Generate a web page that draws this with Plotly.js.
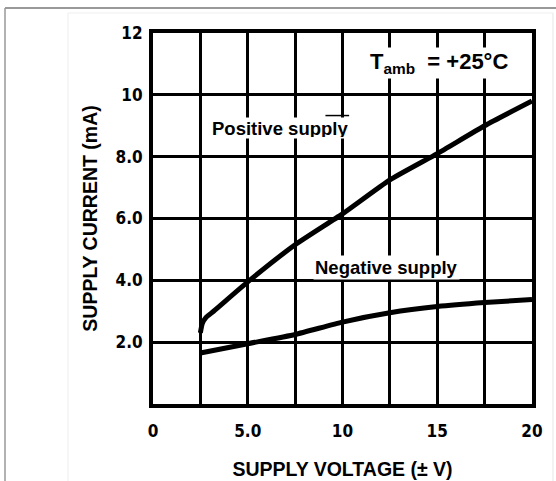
<!DOCTYPE html>
<html>
<head>
<meta charset="utf-8">
<script src="https://cdn.plot.ly/plotly-3.0.1.min.js"></script>
<style>
html,body{margin:0;padding:0;background:#fff;}
#chart{width:556px;height:481px;}
</style>
</head>
<body>
<div id="chart"></div>
<script>
// Data
var posVoltage = [2.5, 2.6, 2.8, 3.2, 5, 7.5, 10, 12.5, 15, 17.5, 20];
var posCurrent = [2.3, 2.6, 2.8, 3.0, 3.95, 5.15, 6.15, 7.25, 8.1, 9.0, 9.8];
var negVoltage = [2.5, 5, 7.5, 10, 12.5, 15, 17.5, 20];
var negCurrent = [1.65, 1.95, 2.25, 2.65, 2.95, 3.15, 3.28, 3.38];

var xTickVals = [0, 5, 10, 15, 20];
var xTickText = ['0', '5.0', '10', '15', '20'];
var yTickVals = [2, 4, 6, 8, 10, 12];
var yTickText = ['2.0', '4.0', '6.0', '8.0', '10', '12'];

var tickFont = {family: '"Liberation Sans Narrow", "DejaVu Sans Condensed", Arial, sans-serif', size: 17, color: '#000', weight: 'bold'};
var labelFont = {family: '"Liberation Sans", Arial, Helvetica, sans-serif', size: 18.5, color: '#000', weight: 'bold'};
var titleFont = {family: '"Liberation Sans", Arial, Helvetica, sans-serif', size: 19.5, color: '#000', weight: 'bold'};
var tempFont = {family: '"Liberation Sans", Arial, Helvetica, sans-serif', size: 22, color: '#000', weight: 'bold'};

var traces = [
  {x: posVoltage, y: posCurrent, mode: 'lines', name: 'Positive supply',
   line: {color: '#000', width: 5, shape: 'spline', smoothing: 0.5}, hoverinfo: 'skip'},
  {x: negVoltage, y: negCurrent, mode: 'lines', name: 'Negative supply',
   line: {color: '#000', width: 5, shape: 'spline', smoothing: 0.5}, hoverinfo: 'skip'}
];

var layout = {
  width: 556, height: 481,
  margin: {l: 153, r: 24, t: 33, b: 77},
  paper_bgcolor: '#fff', plot_bgcolor: '#fff',
  showlegend: false,
  xaxis: {
    range: [0, 20], tickmode: 'array', tickvals: xTickVals, ticktext: xTickText,
    showgrid: true, gridcolor: '#000', gridwidth: 3,
    minor: {tickmode: 'linear', tick0: 0, dtick: 2.5, showgrid: true, gridcolor: '#000', gridwidth: 3, ticks: ''},
    zeroline: false, showline: true, linecolor: '#000', linewidth: 4, mirror: true,
    ticks: '', tickfont: tickFont, ticklabelstandoff: 9,
    title: {text: 'SUPPLY VOLTAGE (± V)', font: titleFont, standoff: 23},
    fixedrange: true
  },
  yaxis: {
    range: [0, 12], tickmode: 'array', tickvals: yTickVals, ticktext: yTickText,
    showgrid: true, gridcolor: '#000', gridwidth: 3,
    zeroline: false, showline: true, linecolor: '#000', linewidth: 4, mirror: true,
    ticks: '', tickfont: tickFont, ticklabelstandoff: 3,
    title: {text: 'SUPPLY CURRENT (mA)', font: titleFont, standoff: 14},
    fixedrange: true
  },
  annotations: [
    {x: 15.1, y: 11.03, xref: 'x', yref: 'y', showarrow: false,
     text: 'T<sub>amb</sub>\u00a0\u00a0=\u00a0+25\u00b0C', font: tempFont, bgcolor: '#fff'},
    {x: 6.7, y: 8.93, xref: 'x', yref: 'y', showarrow: false, height: 18,
     text: 'Positive supply', font: labelFont, bgcolor: '#fff'},
    {x: 12.32, y: 4.40, xref: 'x', yref: 'y', showarrow: false,
     text: 'Negative supply', font: labelFont, bgcolor: '#fff'}
  ],
  shapes: [
    // scan frame
    {type: 'line', xref: 'paper', yref: 'paper', x0: -0.3905, x1: 1.07, y0: 1.0674, y1: 1.0674,
     line: {color: '#777', width: 1.5}},
    {type: 'line', xref: 'paper', yref: 'paper', x0: -0.3905, x1: -0.3905, y0: -0.3, y1: 1.0674,
     line: {color: '#999', width: 1.5}},
    {type: 'line', xref: 'paper', yref: 'paper', x0: 1.0554, x1: 1.0554, y0: -0.3, y1: 1.054,
     line: {color: '#e6e6e6', width: 1}},
    {type: 'line', xref: 'paper', yref: 'paper', x0: -0.2243, x1: -0.2243, y0: -0.3, y1: 1.054,
     line: {color: '#eeeeee', width: 1}},
    {type: 'line', xref: 'paper', yref: 'paper', x0: -0.2243, x1: 1.0554, y0: 1.054, y1: 1.054,
     line: {color: '#eeeeee', width: 1}},
    // small overline artifact above "ply"
    {type: 'line', xref: 'x', yref: 'y', x0: 9.1, x1: 10.35, y0: 9.33, y1: 9.33,
     line: {color: '#000', width: 1.5}}
  ]
};

Plotly.newPlot('chart', traces, layout, {displayModeBar: false, staticPlot: true});
</script>
</body>
</html>
